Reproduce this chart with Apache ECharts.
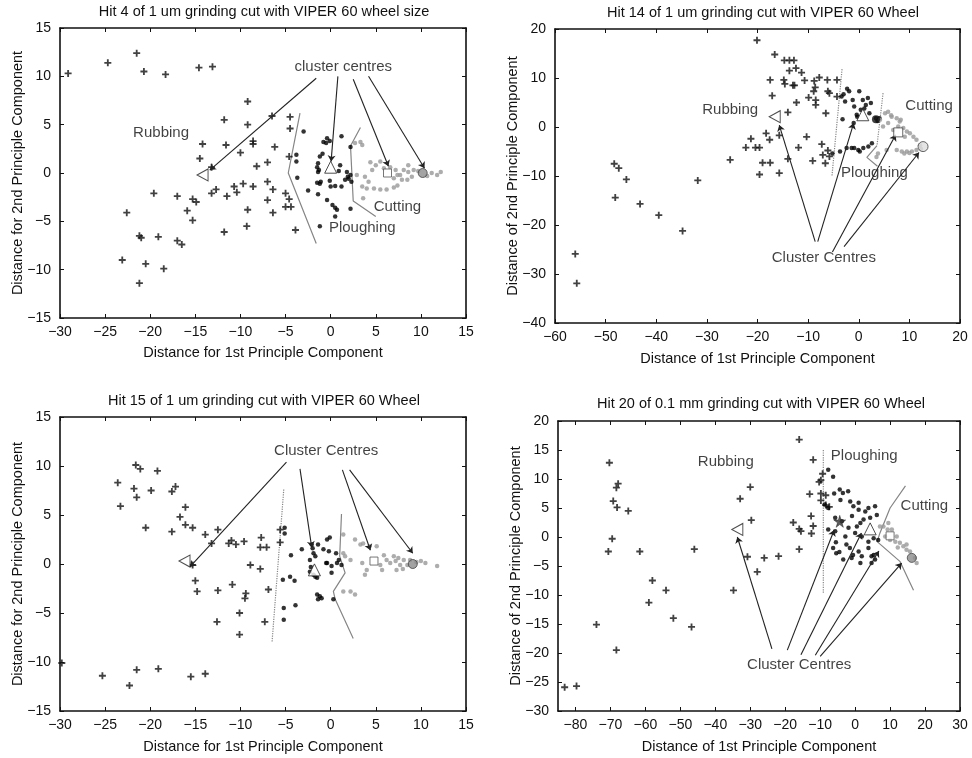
<!DOCTYPE html>
<html><head><meta charset="utf-8">
<script src="https://cdn.jsdelivr.net/npm/echarts@6/dist/echarts.min.js"></script>
<style>html,body{margin:0;padding:0;background:#fff}#c{width:972px;height:758px}</style>
</head><body><div id="c"></div>
<script>
// ---------------- Plot 1 ----------------
const p1Title = 'Hit 4 of 1 um grinding cut with VIPER 60 wheel size';
const p1XName = 'Distance for 1st Principle Component';
const p1YName = 'Distance for 2nd Principle Component';
const p1XTicks = [-30,-25,-20,-15,-10,-5,0,5,10,15];
const p1YTicks = [-15,-10,-5,0,5,10,15];
const p1Rubbing = [
[-29.1,10.3],[-24.7,11.4],[-21.5,12.4],[-20.7,10.5],[-18.3,10.2],[-14.6,10.9],[-13.1,11.0],
[-9.2,7.4],[-11.8,5.5],[-9.2,5.0],[-6.5,5.9],[-4.5,5.8],[-4.5,4.6],
[-14.2,3.0],[-14.5,1.5],[-11.6,2.9],[-8.6,3.3],[-8.6,3.0],[-10.0,2.1],[-6.2,2.7],[-4.6,1.7],
[-13.2,0.6],[-8.2,0.7],[-7.0,1.1],[-7.0,-0.9],
[-19.6,-2.1],[-17.0,-2.4],[-15.3,-2.7],[-14.9,-3.0],[-13.2,-2.1],[-12.7,-1.7],[-11.5,-2.4],[-10.7,-1.4],[-10.4,-2.0],[-9.7,-1.1],[-8.6,-1.4],[-7.0,-2.8],[-6.4,-1.7],[-5.0,-2.1],[-4.6,-2.7],[-4.4,-3.5],[-5.0,-3.5],[-6.4,-4.1],[-9.2,-3.8],
[-15.9,-3.9],[-15.3,-4.9],[-22.6,-4.1],[-11.8,-6.1],[-9.3,-5.5],[-3.9,-5.9],
[-21.2,-6.5],[-21.0,-6.7],[-19.1,-6.6],[-17.0,-7.0],[-16.5,-7.4],[-23.1,-9.0],[-20.5,-9.4],[-18.5,-9.9],[-21.2,-11.4]
];
const p1Ploughing = [
[-3.0,4.3],[-0.8,3.2],[-0.4,3.6],[-0.1,3.3],[-0.5,3.1],[1.2,3.8],[-3.8,1.9],[-3.8,1.2],[-3.7,-0.5],[-2.5,-1.8],
[-1.2,1.7],[-0.9,2.0],[-1.4,1.0],[-1.5,0.6],[-1.3,0.3],[-1.4,0.1],[-1.1,-0.9],[-1.5,-1.0],[-1.2,-1.1],[-1.4,-2.2],
[0.0,-1.4],[0.5,-1.35],[1.2,-1.4],[0.9,0.2],[1.05,0.8],[1.8,0.1],[1.9,-0.4],[2.2,-0.2],[2.3,-0.9],[2.0,-0.6],[1.6,-0.7],
[2.2,2.7],[-0.4,-2.8],[0.2,-3.3],[0.5,-3.6],[0.7,-3.8],[0.5,-4.5],[2.2,-3.7],[-1.2,-5.5],[-0.1,-0.8]
];
const p1Cutting = [
[3.3,3.2],[2.7,3.1],[3.5,2.9],[4.4,1.1],[5.0,0.8],[5.5,1.2],[5.9,0.5],[4.6,0.3],[3.8,-0.4],[4.2,-0.9],[3.5,-1.4],[4.0,-1.6],
[4.8,-1.6],[5.5,-1.7],[6.2,-1.7],[7.0,-1.5],[7.4,-1.3],[7.9,-0.7],[7.0,-0.55],[7.4,-0.2],[8.1,0.3],[8.6,0.1],[9.0,-0.4],[8.5,-0.7],
[9.2,0.3],[8.6,0.8],[11.2,0.0],[12.2,0.1],[11.8,-0.2],[7.2,0.3],[7.7,-0.2],[3.6,-2.6],[2.9,-0.2],[6.6,0.6],[9.7,0.2],[10.7,-0.3]
];
const p1Centres = [[-14.2,-0.2],[0.0,0.6],[6.3,0.0],[10.2,0.0]];
const p1Bound1 = [[-3.4,6.2],[-4.7,0.0],[-1.6,-7.3]];
const p1Bound2 = [[3.3,4.7],[2.2,2.8],[2.5,-2.9],[5.0,-4.5]];
const p1Texts = [['cluster centres',1.4,11.0],['Rubbing',-18.8,4.2],['Cutting',7.4,-3.5],['Ploughing',3.5,-5.7]];
const p1Arrows = [[[-1.6,9.8],[-13.4,0.3]],[[0.8,10.0],[0.05,1.2]],[[2.5,9.7],[6.4,0.7]],[[4.2,10.0],[10.4,0.5]]];

// ---------------- Plot 2 ----------------
const p2Title = 'Hit 14 of 1 um grinding cut with VIPER 60 Wheel';
const p2XName = 'Distance of 1st Principle Component';
const p2YName = 'Distance of 2nd Principle Component';
const p2XTicks = [-60,-50,-40,-30,-20,-10,0,10,20];
const p2YTicks = [-40,-30,-20,-10,0,10,20];
const p2Rubbing = [
[-56.0,-25.9],[-55.7,-31.9],[-48.3,-7.5],[-47.4,-8.4],[-45.9,-10.7],[-48.1,-14.4],[-43.2,-15.7],[-39.5,-18.0],[-34.8,-21.2],[-31.8,-10.9],[-25.4,-6.7],
[-20.1,17.7],[-16.6,14.8],[-14.7,13.6],[-13.7,13.6],[-12.8,13.6],[-13.7,11.5],[-12.4,12.0],[-11.3,11.1],
[-17.5,9.6],[-14.8,9.6],[-14.6,8.8],[-13.0,8.5],[-12.7,8.5],[-10.7,9.5],[-8.8,9.4],[-7.8,10.1],[-8.6,8.1],[-8.9,7.3],[-6.2,9.6],[-4.3,9.6],
[-17.1,6.4],[-12.3,5.0],[-9.9,6.0],[-8.5,5.5],[-8.5,4.5],[-6.1,7.3],[-5.8,6.9],[-4.3,6.2],[-14.0,3.0],[-6.5,2.8],
[-21.3,-2.4],[-22.3,-4.2],[-20.4,-4.2],[-19.6,-4.2],[-18.3,-1.3],[-17.6,-2.6],[-19.0,-7.3],[-17.5,-7.3],[-19.6,-9.7],[-15.7,-9.4],[-15.7,-1.7],
[-14.0,-6.5],[-11.9,-4.2],[-10.3,-2.0],[-9.1,-6.9],[-7.3,-3.5],[-7.1,-5.7],[-6.6,-7.4],[-6.1,-4.8],[-5.8,-6.0]
];
const p2Ploughing = [
[-3.4,6.2],[-3.0,6.7],[-2.3,7.8],[-1.9,7.3],[-2.7,5.2],[-3.2,1.6],[-1.2,5.5],[-0.9,4.2],[0.1,7.3],[0.8,5.5],[1.4,4.5],[1.8,5.9],[2.4,4.9],
[-0.4,2.5],[-0.3,2.1],[0.4,3.5],[1.1,3.8],[2.1,2.8],[3.4,1.8],[3.7,1.2],[4.1,1.8],[-1.0,0.8],
[-3.7,-5.0],[-2.4,-4.3],[-1.4,-4.3],[-0.9,-4.3],[-0.1,-4.7],[0.9,-4.3],[1.9,-4.0],[2.6,-3.3],[0.2,-5.0],[-5.2,-5.4]
];
const p2Cutting = [
[5.2,2.8],[5.8,3.1],[6.5,2.1],[7.5,1.8],[8.1,1.1],[7.8,0.1],[8.8,-0.2],[9.5,-0.9],[10.1,-1.3],[10.8,-2.0],[11.4,-2.6],[12.1,-3.7],
[8.5,-5.0],[9.5,-5.0],[10.5,-5.0],[11.4,-4.7],[7.5,-4.7],[5.5,-4.7],[3.5,-6.1],[3.8,-5.4],[4.2,1.5],[4.8,0.1],[5.8,0.8],[6.8,-0.6],
[9.1,-2.0],[6.4,2.4],[8.3,1.5],[12.3,-4.5],[9.0,-5.4],[10.0,-5.3]
];
const p2Centres = [[-16.6,2.1],[0.8,2.5],[3.4,1.6],[7.8,-1.1],[12.7,-4.0]];
const p2Bound1 = [[-3.3,11.8],[-5.3,-10.1]];
const p2Bound2 = [[4.8,6.9],[3.6,-3.8]];
const p2Bound3 = [[3.6,-3.8],[1.6,-6.2],[3.7,-8.0]];
const p2Texts = [['Rubbing',-25.4,3.4],['Cutting',13.9,4.3],['Ploughing',3.1,-9.4],['Cluster Centres',-6.9,-26.8]];
const p2Arrows = [[[-8.6,-23.4],[-15.7,0.4]],[[-8.1,-23.4],[-1.0,0.8]],[[-5.2,-25.5],[7.3,-1.6]],[[-2.9,-24.4],[11.9,-5.2]]];

// ---------------- Plot 3 ----------------
const p3Title = 'Hit 15 of 1 um grinding cut with VIPER 60 Wheel';
const p3XName = 'Distance for 1st Principle Component';
const p3YName = 'Distance for 2nd Principle Component';
const p3XTicks = [-30,-25,-20,-15,-10,-5,0,5,10,15];
const p3YTicks = [-15,-10,-5,0,5,10,15];
const p3Rubbing = [
[-29.8,-10.1],[-25.3,-11.4],[-22.3,-12.4],[-21.5,-10.8],[-19.1,-10.7],[-15.5,-11.5],[-13.9,-11.2],
[-23.6,8.3],[-23.3,5.9],[-21.8,7.7],[-21.5,6.8],[-21.6,10.1],[-21.1,9.7],[-19.2,9.5],[-19.9,7.5],[-20.5,3.7],[-17.6,7.4],[-17.2,7.9],
[-17.6,3.3],[-16.7,4.8],[-16.1,5.8],[-16.1,4.0],[-15.3,3.7],[-13.9,3.0],[-13.2,2.1],[-12.5,3.5],[-11.3,2.1],[-11.0,2.4],[-10.5,2.0],
[-9.6,2.3],[-7.7,2.7],[-7.8,1.7],[-7.1,1.7],[-8.9,-0.1],[-7.8,-0.5],[-5.6,3.5],[-5.6,2.2],
[-15.3,-0.1],[-15.0,-1.7],[-14.8,-2.8],[-12.5,-2.7],[-10.9,-2.1],[-9.4,-3.0],[-9.5,-3.5],[-6.9,-2.6],[-10.1,-5.0],[-10.1,-7.2],[-12.6,-5.9],[-7.3,-5.9]
];
const p3Ploughing = [
[-5.1,3.7],[-5.1,3.1],[-4.4,0.9],[-5.3,-1.6],[-4.5,-1.3],[-4.0,-1.7],[-5.2,-4.5],[-5.2,-5.7],[-3.9,-4.2],[-3.2,1.5],
[-2.1,2.0],[-1.4,2.0],[-0.4,2.5],[-0.1,2.7],[-0.8,1.5],[-0.2,1.3],[-1.9,1.1],[-1.7,0.8],[-2.3,0.4],[-0.4,0.1],[0.1,-0.2],
[0.9,0.4],[0.7,0.1],[1.2,-0.1],[-2.3,-0.8],[-1.9,-1.1],[-1.5,-1.4],[0.1,-0.9],[-1.5,-3.1],[-1.2,-3.3],[-1.0,-3.5],[-1.4,-3.6],
[0.3,-3.6],[-2.2,-0.3],[-1.7,-1.3],[-2.0,1.6],[0.6,1.1],[-0.5,0.1]
];
const p3Cutting = [
[1.4,3.0],[3.3,2.0],[3.6,2.1],[5.1,1.8],[2.7,2.5],[1.4,1.1],[1.6,0.8],[2.2,0.4],[3.5,0.1],[4.0,-0.6],[3.8,-1.1],[5.9,0.9],
[6.2,0.4],[7.0,0.8],[7.2,0.3],[7.5,0.6],[7.7,-0.1],[7.3,-0.6],[8.1,0.4],[8.5,-0.1],[10.0,0.3],[10.5,0.1],[11.8,-0.2],
[1.4,-2.8],[2.2,-2.8],[2.7,-3.1],[5.5,-0.1],[5.7,-0.6],[8.8,0.4],[9.5,0.2],[6.6,0.1],[4.3,1.8],[8.0,-0.5]
];
const p3Centres = [[-16.2,0.3],[-1.8,-0.6],[4.8,0.3],[9.1,0.0]];
const p3Bound1 = [[-5.2,7.6],[-6.5,-8.0]];
const p3Bound2 = [[1.2,5.1],[1.0,0.8],[1.6,-0.9],[0.3,-2.8],[0.5,-3.6],[2.5,-7.6]];
const p3Texts = [['Cluster Centres',-0.5,11.5]];
const p3Arrows = [[[-4.9,10.4],[-15.6,-0.3]],[[-3.4,9.7],[-2.1,1.7]],[[1.3,9.6],[4.4,1.4]],[[2.1,9.6],[9.1,1.1]]];

// ---------------- Plot 4 ----------------
const p4Title = 'Hit 20 of 0.1 mm grinding cut with VIPER 60 Wheel';
const p4XName = 'Distance of 1st Principle Component';
const p4YName = 'Distance of 2nd Principle Component';
const p4XTicks = [-80,-70,-60,-50,-40,-30,-20,-10,0,10,20,30];
const p4YTicks = [-30,-25,-20,-15,-10,-5,0,5,10,15,20];
const p4Rubbing = [
[-83.1,-25.9],[-79.7,-25.7],[-74.0,-15.1],[-70.3,12.8],[-70.6,-2.5],[-69.5,-0.3],[-69.2,6.2],[-68.3,8.5],[-67.8,9.2],[-68.1,5.1],
[-68.3,-19.5],[-64.9,4.5],[-61.6,-2.5],[-59.0,-11.3],[-58.0,-7.5],[-54.1,-9.2],[-52.0,-14.0],[-46.8,-15.5],[-46.0,-2.1],
[-34.8,-9.2],[-32.9,6.6],[-30.0,8.6],[-29.7,2.9],[-30.8,-3.4],[-28.0,-6.0],[-26.0,-3.6],[-21.9,-3.3],
[-17.7,2.5],[-16.0,1.4],[-15.5,1.0],[-16.0,16.8],[-16.0,-2.1],[-12.0,13.3],[-13.0,7.4],[-12.6,3.6],[-12.0,1.9],[-12.5,0.6],
[-9.8,9.8],[-9.8,7.5],[-9.8,6.3],[-9.3,10.9],[-10.3,9.5],[-8.4,5.5],[-7.4,5.2],[-8.4,7.2]
];
const p4Ploughing = [
[-7.7,11.6],[-6.3,10.4],[-4.4,8.2],[-3.5,7.6],[-2.0,7.9],[-4.2,6.4],[-1.4,6.1],[-0.5,5.3],[1.0,5.9],[1.0,4.7],[2.9,4.4],[3.8,5.0],
[5.7,5.3],[6.2,3.8],[4.3,3.3],[2.4,3.0],[1.5,2.4],[-0.9,3.6],[-1.9,1.6],[-3.8,2.7],[-5.7,3.3],[-7.7,1.3],[-5.7,1.0],[-2.8,0.1],
[0.0,0.7],[1.9,0.1],[3.8,-0.8],[5.3,-0.2],[6.6,-0.5],[-6.3,-1.9],[-5.4,-2.8],[-2.5,-1.3],[-1.5,-1.9],[-0.6,-3.1],[-1.0,-3.6],
[-3.4,-3.9],[1.0,-2.5],[1.9,-3.3],[1.5,-4.5],[3.8,-1.9],[4.7,-3.3],[5.3,-3.1],[5.7,-3.9],[4.7,-4.5],[-8.7,5.6],[-7.7,5.0],
[-6.0,7.5],[0.5,1.8],[-4.5,-2.6],[-5.5,-0.9]
];
const p4Cutting = [
[8.1,1.8],[9.3,1.3],[8.6,0.1],[11.5,-0.8],[12.8,-1.0],[13.8,-1.6],[14.7,-1.3],[15.7,-2.5],[17.1,-3.6],[17.6,-4.5],
[11.9,0.1],[10.5,1.3],[7.1,1.8],[9.5,2.4],[14.7,-2.2],[12.2,-1.8],[10.0,-0.5]
];
const p4Centres = [[-33.7,1.3],[-4.4,2.7],[4.3,1.4],[10.0,0.2],[16.2,-3.6]];
const p4Bound1 = [[-9.1,15.0],[-9.1,-9.6]];
const p4Bound2 = [[14.4,8.8],[10.0,5.0],[7.1,0.7],[6.3,-0.8],[12.8,-4.2],[16.7,-9.2]];
const p4Texts = [['Rubbing',-37.0,13.0],['Ploughing',2.6,14.0],['Cutting',19.8,5.3],['Cluster Centres',-16.0,-22.0]];
const p4Arrows = [[[-23.8,-19.3],[-33.7,0.0]],[[-19.4,-19.5],[-6.0,1.2]],[[-15.5,-20.3],[1.8,0.7]],[[-11.4,-20.4],[6.8,-2.4]],[[-10.0,-20.6],[13.3,-4.5]]];

// ---------------- build ----------------
const FONT = '"Liberation Sans", Arial, Helvetica, sans-serif';
const TXT = '#111';
const PLUS = 'path://M3.7,0H6.3V3.7H10V6.3H6.3V10H3.7V6.3H0V3.7H3.7Z';
const STAR = 'path://M50,0L61,35L98,35L68,57L79,91L50,70L21,91L32,57L2,35L39,35Z';
const SYM = {
  triLeft:{symbol:'path://M0,6L11,0L11,12Z', symbolSize:[11,12], itemStyle:{color:'#fff',borderColor:'#222',borderWidth:1}},
  triUp:{symbol:'triangle', symbolSize:12, itemStyle:{color:'#fff',borderColor:'#222',borderWidth:1}},
  sqOpen:{symbol:'rect', symbolSize:8, itemStyle:{color:'#fff',borderColor:'#555',borderWidth:1}},
  sqOpen2:{symbol:'rect', symbolSize:9, itemStyle:{color:'#fff',borderColor:'#444',borderWidth:1}},
  circGray:{symbol:'circle', symbolSize:9, itemStyle:{color:'#8c8c8c',borderColor:'#444',borderWidth:1}},
  circOpen:{symbol:'circle', symbolSize:10, itemStyle:{color:'#ddd',borderColor:'#444',borderWidth:1}},
  dotBig:{symbol:'circle', symbolSize:8, itemStyle:{color:'#111'}},
  star:{symbol:STAR, symbolSize:12, itemStyle:{color:'#333',borderColor:'#111',borderWidth:0.5}}
};
const grids = [
  {left:60, top:28, width:406, height:290},
  {left:555, top:29, width:405, height:294},
  {left:60, top:417, width:406, height:294},
  {left:558, top:421, width:402, height:290}
];
const plots = [
  {title:p1Title, xn:p1XName, yn:p1YName, xt:p1XTicks, yt:p1YTicks, xr:[-30,15], yr:[-15,15],
   rub:p1Rubbing, plo:p1Ploughing, cut:p1Cutting, cen:p1Centres, kinds:['triLeft','triUp','sqOpen','circGray'],
   bounds:[[p1Bound1,'solid'],[p1Bound2,'solid']], texts:p1Texts, arrows:p1Arrows, tpos:[264,12], xgap:27},
  {title:p2Title, xn:p2XName, yn:p2YName, xt:p2XTicks, yt:p2YTicks, xr:[-60,20], yr:[-40,20],
   rub:p2Rubbing, plo:p2Ploughing, cut:p2Cutting, cen:p2Centres, kinds:['triLeft','triUp','dotBig','sqOpen2','circOpen'],
   bounds:[[p2Bound1,'dotted'],[p2Bound2,'dotted'],[p2Bound3,'solid']], texts:p2Texts, arrows:p2Arrows, tpos:[763,13], xgap:28},
  {title:p3Title, xn:p3XName, yn:p3YName, xt:p3XTicks, yt:p3YTicks, xr:[-30,15], yr:[-15,15],
   rub:p3Rubbing, plo:p3Ploughing, cut:p3Cutting, cen:p3Centres, kinds:['triLeft','triUp','sqOpen','circGray'],
   bounds:[[p3Bound1,'dotted'],[p3Bound2,'solid']], texts:p3Texts, arrows:p3Arrows, tpos:[264,401], xgap:28},
  {title:p4Title, xn:p4XName, yn:p4YName, xt:p4XTicks, yt:p4YTicks, xr:[-85,30], yr:[-30,20],
   rub:p4Rubbing, plo:p4Ploughing, cut:p4Cutting, cen:p4Centres, kinds:['triLeft','star','triUp','sqOpen','circGray'],
   bounds:[[p4Bound1,'dotted'],[p4Bound2,'solid']], texts:p4Texts, arrows:p4Arrows, tpos:[761,404], xgap:28}
];
const fmt = v => v < 0 ? '\u2212' + Math.abs(v) : String(v);
const lineStyleAx = {color:'#111', width:1.6};
const xAxis = [], yAxis = [], series = [], graphic = [];
plots.forEach((p, i) => {
  xAxis[i] = {gridIndex:i, type:'value', min:p.xr[0], max:p.xr[1], position:'bottom',
    name:p.xn, nameLocation:'middle', nameGap:p.xgap, nameMoveOverlap:false,
    nameTextStyle:{fontSize:14.5, color:TXT, fontFamily:FONT},
    axisLine:{show:true, onZero:false, lineStyle:lineStyleAx},
    axisTick:{show:true, inside:true, length:4, customValues:p.xt, lineStyle:{color:'#111'}},
    axisLabel:{show:true, customValues:p.xt, formatter:fmt, fontSize:14, color:TXT, fontFamily:FONT, margin:7},
    splitLine:{show:false}};
  xAxis[i+4] = {gridIndex:i, type:'value', min:p.xr[0], max:p.xr[1], position:'top',
    axisLine:{show:true, onZero:false, lineStyle:lineStyleAx},
    axisTick:{show:true, inside:true, length:4, customValues:p.xt, lineStyle:{color:'#111'}},
    axisLabel:{show:false}, splitLine:{show:false}};
  yAxis[i] = {gridIndex:i, type:'value', min:p.yr[0], max:p.yr[1], position:'left',
    name:p.yn, nameLocation:'middle', nameGap:35, nameMoveOverlap:false,
    nameTextStyle:{fontSize:14.5, color:TXT, fontFamily:FONT},
    axisLine:{show:true, onZero:false, lineStyle:lineStyleAx},
    axisTick:{show:true, inside:true, length:4, customValues:p.yt, lineStyle:{color:'#111'}},
    axisLabel:{show:true, customValues:p.yt, formatter:fmt, fontSize:14, color:TXT, fontFamily:FONT, margin:9},
    splitLine:{show:false}};
  yAxis[i+4] = {gridIndex:i, type:'value', min:p.yr[0], max:p.yr[1], position:'right',
    axisLine:{show:true, onZero:false, lineStyle:lineStyleAx},
    axisTick:{show:true, inside:true, length:4, customValues:p.yt, lineStyle:{color:'#111'}},
    axisLabel:{show:false}, splitLine:{show:false}};
  const ax = {xAxisIndex:i, yAxisIndex:i};
  p.bounds.forEach(b => series.push(Object.assign({type:'line', data:b[0], symbol:'none', silent:true, z:2,
    lineStyle:{color:'#858585', width:1.2, type:b[1]}}, ax)));
  series.push(Object.assign({type:'scatter', name:'Rubbing', data:p.rub, symbol:PLUS, symbolSize:7,
    itemStyle:{color:'#111'}, z:3}, ax));
  series.push(Object.assign({type:'scatter', name:'Ploughing', data:p.plo, symbol:'circle', symbolSize:4.5,
    itemStyle:{color:'#000'}, z:3}, ax));
  series.push(Object.assign({type:'scatter', name:'Cutting', data:p.cut, symbol:'circle', symbolSize:4.5,
    itemStyle:{color:'#999'}, z:3}, ax));
  series.push(Object.assign({type:'lines', coordinateSystem:'cartesian2d', polyline:false,
    data:p.arrows.map(a => ({coords:a})), symbol:['none','arrow'], symbolSize:6,
    lineStyle:{color:'#222', width:1.1, opacity:1, curveness:0}, silent:true, z:4}, ax));
  series.push(Object.assign({type:'scatter', name:'Centres',
    data:p.cen.map((c, k) => Object.assign({value:c}, SYM[p.kinds[k]])), z:5}, ax));
  series.push(Object.assign({type:'scatter', name:'Text',
    data:p.texts.map(t => ({name:t[0], value:[t[1], t[2]]})), symbolSize:1,
    itemStyle:{color:'rgba(0,0,0,0)'}, silent:true, z:6,
    label:{show:true, position:'inside', formatter:q => q.name, fontSize:15, color:TXT, fontFamily:FONT}}, ax));
  graphic.push({type:'text', x:p.tpos[0], y:p.tpos[1],
    style:{text:p.title, fill:TXT, fontSize:14.5, fontFamily:FONT, align:'center', verticalAlign:'middle',
      textAlign:'center', textVerticalAlign:'middle'}});
});
const chart = echarts.init(document.getElementById('c'), null, {renderer:'canvas'});
chart.setOption({
  backgroundColor:'#fff', animation:false,
  grid:grids, xAxis, yAxis, series, graphic
});
</script></body></html>
